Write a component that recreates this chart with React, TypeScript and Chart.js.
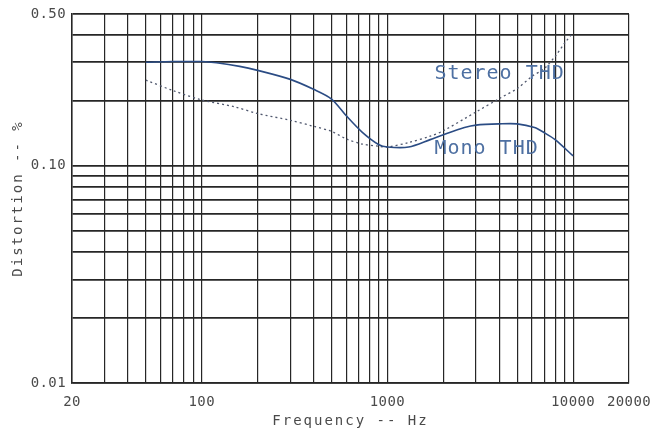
import React, { useEffect, useRef } from 'react';
import { Chart, registerables } from 'chart.js';

Chart.register(...registerables);

// ---- data ----
const monoFreq = [50, 70, 100, 120, 160, 200, 300, 400, 500, 600, 730, 900, 1000, 1300, 1700, 2000, 2600, 3000, 4000, 5000, 6200, 7000, 8000, 10000];
const monoTHD = [0.300, 0.302, 0.302, 0.298, 0.287, 0.275, 0.250, 0.225, 0.203, 0.170, 0.143, 0.125, 0.122, 0.122, 0.132, 0.139, 0.150, 0.154, 0.156, 0.156, 0.150, 0.142, 0.132, 0.111];

const stereoFreq = [50, 70, 100, 150, 200, 300, 400, 500, 600, 730, 900, 1000, 1300, 1700, 2000, 3000, 4000, 5000, 6000, 7000, 8000, 9000, 10000];
const stereoTHD = [0.248, 0.222, 0.201, 0.187, 0.174, 0.162, 0.152, 0.144, 0.133, 0.126, 0.123, 0.122, 0.128, 0.137, 0.145, 0.177, 0.204, 0.227, 0.258, 0.281, 0.319, 0.367, 0.41];

const xGridTicks = [20, 30, 40, 50, 60, 70, 80, 90, 100, 200, 300, 400, 500, 600, 700, 800, 900, 1000, 2000, 3000, 4000, 5000, 6000, 7000, 8000, 9000, 10000, 20000];
const xTickLabels = [20, 100, 1000, 10000, 20000];
const yGridTicks = [0.01, 0.02, 0.03, 0.04, 0.05, 0.06, 0.07, 0.08, 0.09, 0.1, 0.2, 0.3, 0.4, 0.5];
const yTickLabels = ['0.01', '0.10', '0.50'];

const xTitle = 'Frequency -- Hz';
const yTitle = 'Distortion -- %';

const stereoLabel = { text: 'Stereo THD', freq: 1790, value: 0.264 };
const monoLabel = { text: 'Mono THD', freq: 1790, value: 0.120 };

const FONT = '"DejaVu Sans Mono", monospace';
const TEXT_COLOR = '#4a4a4a';
const GRID_COLOR = '#262626';
const MONO_COLOR = '#2b4c84';
const STEREO_COLOR = '#50586e';
const LABEL_COLOR = '#4e70a2';

function patchTitle(scale: any, spacing: string) {
  if (scale._titlePatched) return;
  const orig = scale.drawTitle.bind(scale);
  scale.drawTitle = function () {
    const ctx = scale.ctx;
    ctx.save();
    (ctx as any).letterSpacing = spacing;
    orig();
    ctx.restore();
  };
  const origLabels = scale.drawLabels.bind(scale);
  scale.drawLabels = function (area: any) {
    const ctx = scale.ctx;
    ctx.save();
    (ctx as any).letterSpacing = '0.4px';
    origLabels(area);
    ctx.restore();
  };
  scale._titlePatched = true;
}

const annotationPlugin = {
  id: 'thdLabels',
  afterDatasetsDraw(chart: any) {
    const { ctx, scales } = chart;
    const xs = scales.x;
    const ys = scales.y;
    ctx.save();
    ctx.font = `20px ${FONT}`;
    (ctx as any).letterSpacing = '1px';
    ctx.fillStyle = LABEL_COLOR;
    ctx.textAlign = 'left';
    ctx.textBaseline = 'middle';
    for (const l of [stereoLabel, monoLabel]) {
      const px = xs.getPixelForValue(l.freq);
      const py = ys.getPixelForValue(l.value);
      ctx.fillText(l.text, px, py);
    }
    ctx.restore();
  },
};

export default function App() {
  const ref = useRef<HTMLCanvasElement | null>(null);

  useEffect(() => {
    document.body.style.margin = '0';
    const canvas = ref.current!;
    const chart = new Chart(canvas, {
      type: 'line',
      data: {
        datasets: [
          {
            label: 'Mono THD',
            data: monoFreq.map((f, i) => ({ x: f, y: monoTHD[i] })),
            borderColor: MONO_COLOR,
            borderWidth: 1.6,
            pointRadius: 0,
            tension: 0.3,
            fill: false,
          },
          {
            label: 'Stereo THD',
            data: stereoFreq.map((f, i) => ({ x: f, y: stereoTHD[i] })),
            borderColor: STEREO_COLOR,
            borderWidth: 1.3,
            borderDash: [2, 3],
            pointRadius: 0,
            tension: 0.3,
            fill: false,
          },
        ],
      },
      options: {
        responsive: false,
        animation: false,
        devicePixelRatio: 1,
        layout: { padding: { top: 14, right: 23, left: 0, bottom: 0 } },
        plugins: {
          legend: { display: false },
          tooltip: { enabled: false },
          title: { display: false },
        },
        scales: {
          x: {
            type: 'logarithmic',
            min: 20,
            max: 20000,
            afterBuildTicks: (scale: any) => {
              scale.ticks = xGridTicks.map((v) => ({ value: v }));
            },
            afterFit: (scale: any) => {
              scale.height = 47;
              scale.paddingLeft = 0;
              scale.paddingRight = 0;
              patchTitle(scale, '2px');
            },
            grid: { color: GRID_COLOR, lineWidth: 1.2, drawTicks: false },
            border: { display: true, color: GRID_COLOR, width: 1.5 },
            ticks: {
              autoSkip: false,
              maxRotation: 0,
              padding: 11,
              color: TEXT_COLOR,
              font: { family: FONT, size: 14 },
              callback: (value: any) => {
                const v = Number(value);
                return xTickLabels.some((t) => Math.abs(t - v) < 1e-6) ? String(v) : '';
              },
            },
            title: {
              display: true,
              text: xTitle,
              color: TEXT_COLOR,
              font: { family: FONT, size: 14, lineHeight: 1.2 },
              padding: { top: 0, bottom: 0 },
            },
          },
          y: {
            type: 'logarithmic',
            min: 0.01,
            max: 0.5,
            afterBuildTicks: (scale: any) => {
              scale.ticks = yGridTicks.map((v) => ({ value: v }));
            },
            afterFit: (scale: any) => {
              scale.width = 72;
              scale.paddingTop = 0;
              scale.paddingBottom = 0;
              patchTitle(scale, '2px');
            },
            grid: { color: GRID_COLOR, lineWidth: 1.7, drawTicks: false },
            border: { display: true, color: GRID_COLOR, width: 1.5 },
            ticks: {
              autoSkip: false,
              padding: 6,
              color: TEXT_COLOR,
              font: { family: FONT, size: 14 },
              callback: (value: any) => {
                const v = Number(value);
                const s = v.toFixed(2);
                return yTickLabels.includes(s) && Math.abs(Number(s) - v) < 1e-9 ? s : '';
              },
            },
            title: {
              display: true,
              text: yTitle,
              color: TEXT_COLOR,
              font: { family: FONT, size: 14, lineHeight: 1.2 },
              padding: { top: 10, bottom: 0 },
            },
          },
        },
      },
      plugins: [annotationPlugin],
    } as any);
    return () => chart.destroy();
  }, []);

  return (
    <div style={{ width: 652, height: 430, background: '#ffffff' }}>
      <canvas ref={ref} width={652} height={430} style={{ display: 'block' }} />
    </div>
  );
}
